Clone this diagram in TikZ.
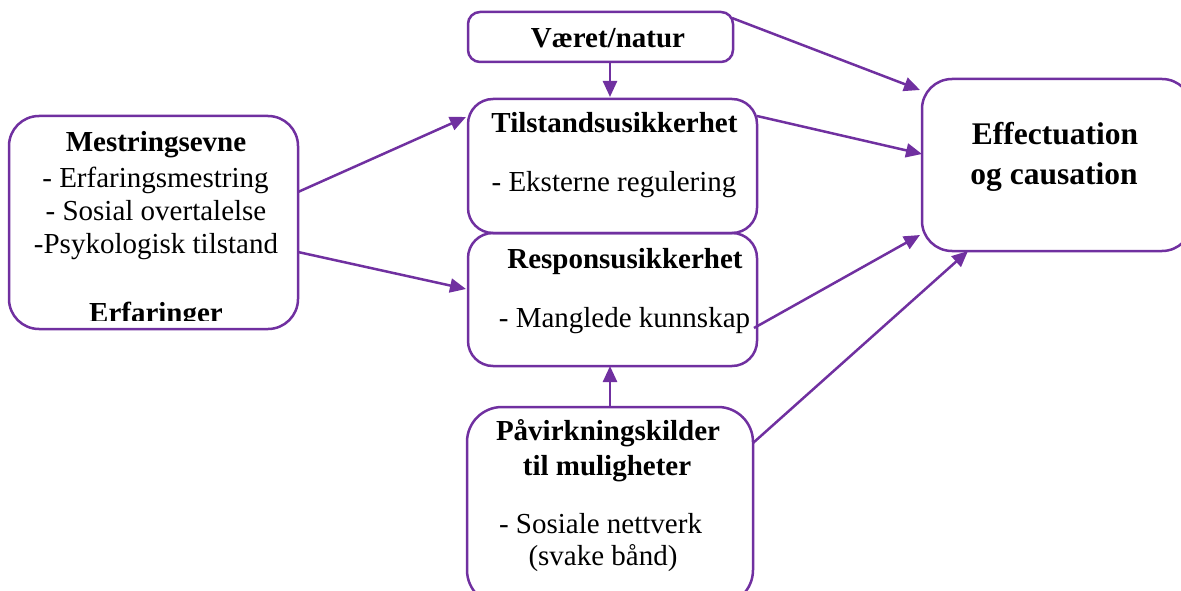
\documentclass[tikz,border=0pt]{standalone}
\usepackage{fontspec}
\setmainfont{Liberation Serif}
\usetikzlibrary{arrows.meta}
\definecolor{boxpurple}{RGB}{112,48,160}
\begin{document}
\begin{tikzpicture}[x=1pt,y=-1pt,
  box/.style={draw=boxpurple, line width=2.5pt, inner sep=0pt, outer sep=0pt},
  txt/.style={anchor=base, inner sep=0pt, font=\fontsize{29}{33}\selectfont},
  btxt/.style={txt, font=\fontsize{29}{33}\selectfont\bfseries},
  bigtxt/.style={anchor=base, inner sep=0pt, font=\fontsize{31.5}{39}\selectfont\bfseries},
  link/.style={draw=boxpurple, line width=2.5pt, -{Triangle[length=16pt,width=14pt]}}]
\useasboundingbox (0,0) rectangle (1181,591);
\clip (0,0) rectangle (1181,591);

% boxes
\node[box, minimum width=289pt, minimum height=213pt, rounded corners=30pt] (mest) at (153.5,222.5) {};
\node[box, minimum width=265pt, minimum height=50pt, rounded corners=12pt] (vaer) at (600.5,37) {};
\node[box, minimum width=289pt, minimum height=134pt, rounded corners=25pt] (tils) at (612.5,166) {};
\node[box, minimum width=289pt, minimum height=133pt, rounded corners=25pt] (resp) at (612.5,299.5) {};
\node[box, minimum width=286pt, minimum height=198pt, rounded corners=35pt] (pavi) at (610,506) {};
\node[box, minimum width=270pt, minimum height=172pt, rounded corners=30pt] (effe) at (1057,165) {};

% texts
\node[btxt] (mest1) at (156,152) {Mestringsevne};
\node[txt]  (mest2) at (155.5,187) {- Erfaringsmestring};
\node[txt]  (mest3) at (156,220) {- Sosial overtalelse};
\node[txt]  (mest4) at (156,253) {-Psykologisk tilstand};
\begin{scope}
  \clip (0,0) rectangle (1181,320);
  \node[btxt] (mest5) at (156,322) {Erfaringer};
\end{scope}

\node[btxt] (vaer1) at (608,48) {Været/natur};

\node[btxt] (tils1) at (614.5,133) {Tilstandsusikkerhet};
\node[txt]  (tils2) at (614,191) {- Eksterne regulering};

\node[btxt] (resp1) at (625,268) {Responsusikkerhet};
\node[txt]  (resp2) at (624.5,327) {- Manglede kunnskap};

\node[btxt] (pavi1) at (608,440) {Påvirkningskilder};
\node[btxt] (pavi2) at (607,475) {til muligheter};
\node[txt]  (pavi3) at (600.5,533) {- Sosiale nettverk};
\node[txt]  (pavi4) at (603,565) {(svake bånd)};

\node[bigtxt] (effe1) at (1055,145) {Effectuation};
\node[bigtxt] (effe2) at (1054,184) {og causation};

% connectors
\draw[link] ([yshift=30.5pt]mest.east) -- ([xshift=-2pt,yshift=49pt]tils.west);
\draw[link] ([yshift=-29.5pt]mest.east) -- ([xshift=-2pt,yshift=10.5pt]resp.west);
\draw[link] ([xshift=9.5pt]vaer.south) -- ([xshift=-2.5pt,yshift=2pt]tils.north);
\draw[link] ([xshift=-1pt,yshift=19pt]vaer.east) -- ([xshift=-2pt,yshift=75pt]effe.west);
\draw[link] ([yshift=50pt]tils.east) -- ([yshift=11pt]effe.west);
\draw[link] ([xshift=-3pt,yshift=-28.5pt]resp.east) -- ([xshift=-2pt,yshift=-70pt]effe.west);
\draw[link] ([yshift=63pt]pavi.east) -- ([xshift=-89pt]effe.south);
\draw[link] (pavi.north) -- ([xshift=-2.5pt]resp.south);
\end{tikzpicture}
\end{document}
